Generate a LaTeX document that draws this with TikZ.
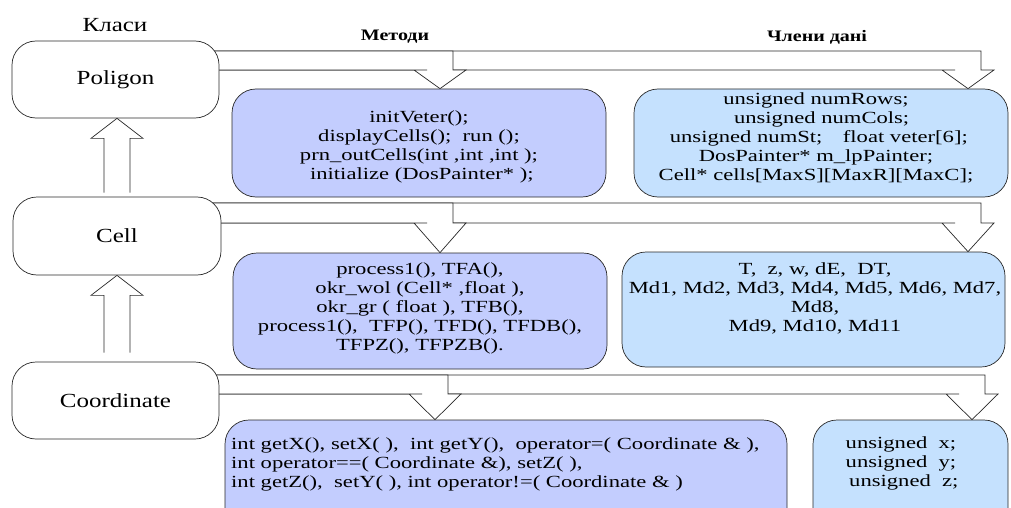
\documentclass[tikz,border=0pt]{standalone}
\usepackage{fontspec}
\setmainfont{Liberation Serif}[FakeStretch=1.25]
\newfontfamily\boxfont{Liberation Serif}[FakeStretch=1.33]
\usepackage{xcolor}
\usetikzlibrary{backgrounds}
\definecolor{methblue}{RGB}{195,205,254}
\definecolor{datablue}{RGB}{197,225,254}
\definecolor{edgegray}{RGB}{40,40,40}

\begin{document}
\begin{tikzpicture}[x=1pt, y=-1pt,
  classbox/.style={draw=edgegray, line width=0.7pt, fill=white, rounded corners=24pt,
    minimum width=207pt, minimum height=77pt, inner sep=0pt, font=\fontsize{20}{22}\selectfont},
  classlabel/.style={inner sep=0pt, font=\fontsize{20}{22}\selectfont},
  methbox/.style={draw=edgegray, line width=0.7pt, fill=methblue, rounded corners=24pt, inner sep=0pt},
  databox/.style={methbox, fill=datablue},
  boxtext/.style={inner sep=0pt, align=center, font=\boxfont\fontsize{17}{19}\selectfont},
  headtext/.style={inner sep=0pt, font=\bfseries\fontsize{16}{16}\selectfont},
  blockarrow/.style={draw=edgegray, line width=0.7pt, fill=white}]
  \useasboundingbox (0,0) rectangle (1011,508);
  \clip (0,0) rectangle (1011,508);

  % classes
  \node[classlabel] (classhead) at (115,25) {Класи};
  \node[classbox] (Poligon) at (115.5,79.5) {Poligon};
  \node[classbox, minimum width=208pt, minimum height=78pt] (Cell) at (117,236) {Cell};
  \node[classbox] (Coordinate) at (115.5,400.5) {Coordinate};

  \node[headtext] (methhead) at (395,37) {Методи};
  \node[headtext] (datahead) at (817,37) {Члени дані};

  % methods and data members
  \node[methbox, minimum width=374pt, minimum height=108pt] (M1) at (419,143) {};
  \node[databox, minimum width=374pt, minimum height=108pt] (D1) at (821,143) {};
  \node[methbox, minimum width=374pt, minimum height=116pt] (M2) at (420,311) {};
  \node[databox, minimum width=383pt, minimum height=115pt] (D2) at (813.5,309.5) {};
  \node[methbox, minimum width=562pt, minimum height=120pt] (M3) at (506,480) {};
  \node[databox, minimum width=195pt, minimum height=120pt] (D3) at (910.5,480) {};

  \node[boxtext] (M1t) at (419,147) {initVeter();\\ displayCells();\ \ run ();\\
    prn\_outCells(int ,int ,int );\\ \ initialize (DosPainter* );};
  \node[boxtext] (D1t) at (816,138) {unsigned numRows;\\ \ \ unsigned numCols;\\
    \ unsigned numSt;\hspace{1.2em}float veter[6];\\ DosPainter* m\_lpPainter;\\
    Cell* cells[MaxS][MaxR][MaxC];};
  \node[boxtext] (M2t) at (420,308) {process1(), TFA(),\\ okr\_wol (Cell* ,float ),\\
    okr\_gr ( float ), TFB(),\\ process1(),\ \ TFP(), TFD(), TFDB(),\\ TFPZ(), TFPZB().};
  \node[boxtext] (D2t) at (815,298.5) {T,\ \ z, w, dE,\ \ DT,\\
    Md1, Md2, Md3, Md4, Md5, Md6, Md7,\\ Md8,\\ Md9, Md10, Md11};
  \node[boxtext, align=left, anchor=west] (M3t) at (231,464) {int getX(), setX( ),\ \ int getY(),\ \ operator=( Coordinate \& ),\\
    int operator==( Coordinate \&), setZ( ),\\
    int getZ(),\ \ setY( ), int operator!=( Coordinate \& )};
  \node[boxtext] (D3t) at (901,463) {unsigned\ \ x;\\ unsigned\ \ y;\\ \ unsigned\ \ z;};

  \begin{pgfonlayer}{background}
    % class -> methods / data
    \foreach \cls/\yt/\yb/\xm/\mb/\xd/\db in {Poligon/51/70/453/M1/981/D1,
        Cell/203/223/453/M2/981/D2, Coordinate/375/394/448/M3/985/D3} {
      \draw[blockarrow] (\cls.center |- 0,\yt) -- (\xd,\yt) -- (\xd,\yb) -- (\xd+13,\yb)
        -- (\xd-13,0 |- \db.north) -- (\xd-39,\yb) -- (\xd-26,\yb) -- (\cls.center |- 0,\yb);
      \draw[blockarrow] (\cls.center |- 0,\yt) -- (\xm,\yt) -- (\xm,\yb) -- (\xm+13,\yb)
        -- (\xm-13,0 |- \mb.north) -- (\xm-39,\yb) -- (\xm-26,\yb) -- (\cls.center |- 0,\yb);
    }
    % inheritance
    \foreach \lo/\hi/\gap in {Cell/Poligon/4, Coordinate/Cell/9} {
      \draw[blockarrow] ([yshift=\gap]104,0 |- \lo.north) -- ([yshift=-20]104,0 |- \hi.south)
        -- ([yshift=-20]91,0 |- \hi.south) -- (117,0 |- \hi.south) -- ([yshift=-20]143,0 |- \hi.south)
        -- ([yshift=-20]130,0 |- \hi.south) -- ([yshift=\gap]130,0 |- \lo.north);
    }
  \end{pgfonlayer}
\end{tikzpicture}
\end{document}
